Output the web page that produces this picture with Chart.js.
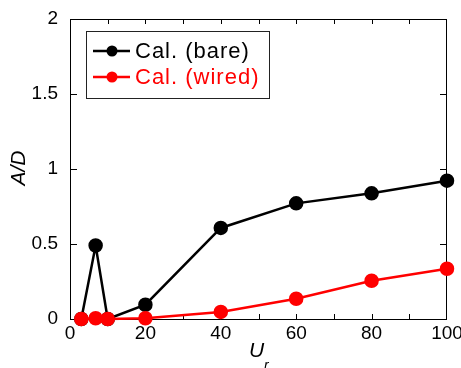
<!DOCTYPE html>
<html>
<head>
<meta charset="utf-8">
<script src="https://cdn.jsdelivr.net/npm/chart.js@4.4.0/dist/chart.umd.min.js"></script>
<style>
  html, body { margin: 0; padding: 0; background: #fff; }
  canvas { display: block; }
</style>
</head>
<body>
<canvas id="chart" width="461" height="368"></canvas>
<script>
const ur = [3, 6.8, 10, 20, 40, 60, 80, 100];
const bare = [0, 0.49, 0, 0.095, 0.607, 0.771, 0.838, 0.922];
const wired = [0, 0.005, 0, 0.005, 0.047, 0.135, 0.255, 0.335];
const xTicks = [0, 20, 40, 60, 80, 100];
const yTicks = [0, 0.5, 1, 1.5, 2];
const seriesNames = ["Cal. (bare)", "Cal. (wired)"];

const FONT = "'Liberation Sans', Arial, sans-serif";

// frame with inward ticks, drawn under the data
const framePlugin = {
    id: 'frame',
    beforeDatasetsDraw(chart) {
        const c = chart.ctx, a = chart.chartArea;
        const x = chart.scales.x, y = chart.scales.y;
        c.save();
        c.strokeStyle = '#000';
        c.lineWidth = 1;
        c.strokeRect(a.left + 0.5, a.top + 0.5, a.right - a.left - 1, a.bottom - a.top);
        c.beginPath();
        for (let v = 10; v < 100; v += 10) {
            const px = Math.round(x.getPixelForValue(v)) + 0.5;
            c.moveTo(px, a.bottom); c.lineTo(px, a.bottom - 5);
            c.moveTo(px, a.top); c.lineTo(px, a.top + 5);
        }
        yTicks.forEach(v => {
            if (v === 0 || v === 2) return;
            const py = Math.round(y.getPixelForValue(v)) + 0.5;
            c.moveTo(a.left, py); c.lineTo(a.left + 7, py);
            c.moveTo(a.right, py); c.lineTo(a.right - 7, py);
        });
        c.stroke();
        c.restore();
    },
    afterDraw(chart) {
        const c = chart.ctx;
        c.save();
        // legend box
        c.fillStyle = '#fff';
        c.fillRect(86, 31, 183, 67);
        c.strokeStyle = '#222';
        c.lineWidth = 1;
        c.strokeRect(86.5, 31.5, 183, 67);
        chart.data.datasets.forEach((ds, i) => {
            const ly = 51 + i * 26;
            c.strokeStyle = ds.borderColor;
            c.lineWidth = 2.5;
            c.beginPath();
            c.moveTo(93, ly); c.lineTo(130, ly);
            c.stroke();
            c.fillStyle = ds.backgroundColor;
            c.beginPath();
            c.arc(112, ly, 5.5, 0, Math.PI * 2);
            c.fill();
            c.font = '22px ' + FONT;
            c.letterSpacing = '1px';
            c.textBaseline = 'middle';
            c.textAlign = 'left';
            c.fillText(ds.label, 135, ly + 1);
            c.letterSpacing = '0px';
        });
        // axis titles
        c.fillStyle = '#000';
        c.font = 'italic 21px ' + FONT;
        c.textAlign = 'center';
        c.textBaseline = 'middle';
        c.save();
        c.translate(19, 168);
        c.rotate(-Math.PI / 2);
        c.fillText('A/D', 0, 0);
        c.restore();
        c.textAlign = 'left';
        c.textBaseline = 'alphabetic';
        c.fillText('U', 249, 357);
        c.font = 'italic 14px ' + FONT;
        c.fillText('r', 264, 370);
        c.restore();
    }
};

new Chart(document.getElementById('chart'), {
    type: 'line',
    data: {
        datasets: [
            {
                label: seriesNames[0],
                data: ur.map((u, i) => ({ x: u, y: bare[i] })),
                borderColor: '#000000',
                backgroundColor: '#000000',
                borderWidth: 2.5,
                pointRadius: 6,
                order: 1,
                clip: false
            },
            {
                label: seriesNames[1],
                data: ur.map((u, i) => ({ x: u, y: wired[i] })),
                borderColor: '#ff0000',
                backgroundColor: '#ff0000',
                borderWidth: 2.5,
                pointRadius: 6,
                order: 0,
                clip: false
            }
        ]
    },
    options: {
        responsive: false,
        animation: false,
        devicePixelRatio: 1,
        layout: { padding: { top: 19, right: 14, left: 0, bottom: 0 } },
        plugins: {
            legend: { display: false },
            tooltip: { enabled: false }
        },
        scales: {
            x: {
                type: 'linear',
                min: 0,
                max: 100,
                grid: { display: false, drawTicks: false },
                border: { display: false },
                afterBuildTicks: s => { s.ticks = xTicks.map(v => ({ value: v })); },
                ticks: { color: '#000', font: { size: 19, family: FONT }, padding: 3, maxRotation: 0 },
                afterFit: s => { s.height = 49; s.paddingLeft = 0; s.paddingRight = 0; }
            },
            y: {
                min: 0,
                max: 2,
                grid: { display: false, drawTicks: false },
                border: { display: false },
                afterBuildTicks: s => { s.ticks = yTicks.map(v => ({ value: v })); },
                ticks: {
                    color: '#000',
                    font: { size: 19, family: FONT },
                    padding: 12,
                    callback: v => String(v)
                },
                afterFit: s => { s.width = 70; s.paddingTop = 0; s.paddingBottom = 0; }
            }
        }
    },
    plugins: [framePlugin]
});
</script>
</body>
</html>
